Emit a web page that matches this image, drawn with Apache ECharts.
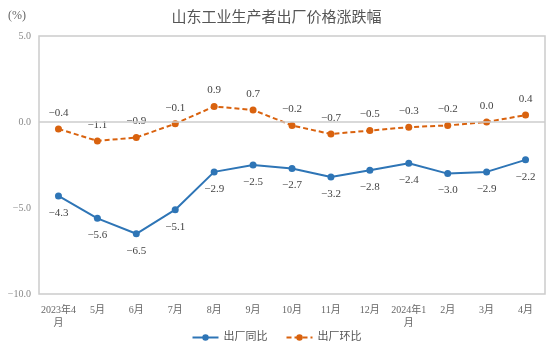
<!DOCTYPE html>
<html><head><meta charset="utf-8">
<script src="https://cdn.jsdelivr.net/npm/echarts@6/dist/echarts.min.js"></script>
<style>html,body{margin:0;padding:0;background:#fff}#c{width:553px;height:363px}</style>
</head><body><div id="c"></div>
<script>
const categories = ['2023年4\n月','5月','6月','7月','8月','9月','10月','11月','12月','2024年1\n月','2月','3月','4月'];
const yoy = [-4.3,-5.6,-6.5,-5.1,-2.9,-2.5,-2.7,-3.2,-2.8,-2.4,-3.0,-2.9,-2.2];
const mom = [-0.4,-1.1,-0.9,-0.1,0.9,0.7,-0.2,-0.7,-0.5,-0.3,-0.2,0.0,0.4];
const yTicks = [5, 0, -5, -10];
const serif = '"Liberation Serif","DejaVu Serif","Noto Sans CJK SC",serif';
const fmt = v => (v < 0 ? '\u2212' + Math.abs(v).toFixed(1) : v.toFixed(1));
const chart = echarts.init(document.getElementById('c'));
chart.setOption({
  animation: false,
  title: {text: '山东工业生产者出厂价格涨跌幅', left: 'center', top: 6,
    textStyle: {fontFamily: serif, fontSize: 15, fontWeight: 'normal', color: '#555'}},
  graphic: [{type: 'text', left: 8, top: 10, style: {text: '(%)', fontFamily: serif, fontSize: 12, fill: '#666'}}],
  legend: {bottom: 15, left: 'center', itemGap: 18, itemWidth: 26, itemHeight: 8,
    textStyle: {fontFamily: serif, fontSize: 11, color: '#555'},
    data: ['出厂同比', '出厂环比']},
  grid: {left: 39, right: 8, top: 36, bottom: 69, show: true, borderColor: '#ccc', borderWidth: 1.5},
  xAxis: {type: 'category', data: categories, boundaryGap: true,
    axisLine: {show: false}, axisTick: {show: false},
    axisLabel: {interval: 0, fontFamily: serif, fontSize: 10, color: '#666', margin: 10, lineHeight: 13}},
  yAxis: {type: 'value', min: -10, max: 5, interval: 5,
    axisLine: {show: false}, axisTick: {show: false}, splitLine: {show: false},
    axisLabel: {fontFamily: serif, fontSize: 10, color: '#888', margin: 8, formatter: v => yTicks.includes(v) ? fmt(v) : ''}},
  series: [
    {name: '出厂同比', type: 'line', data: yoy, symbol: 'circle', symbolSize: 7,
      itemStyle: {color: '#2E75B6'}, lineStyle: {width: 2, color: '#2E75B6'},
      label: {show: true, position: 'bottom', distance: 8, fontFamily: serif, fontSize: 11, color: '#444', formatter: p => fmt(p.value)},
      markLine: {silent: true, symbol: 'none', label: {show: false}, lineStyle: {color: '#ccc', type: 'solid', width: 1.5}, data: [{yAxis: 0}]}},
    {name: '出厂环比', type: 'line', data: mom, symbol: 'circle', symbolSize: 7,
      itemStyle: {color: '#D9620E'}, lineStyle: {width: 2, type: [5, 3], color: '#D9620E'},
      label: {show: true, position: 'top', distance: 7, fontFamily: serif, fontSize: 11, color: '#444', formatter: p => fmt(p.value)}}
  ]
});
</script></body></html>
